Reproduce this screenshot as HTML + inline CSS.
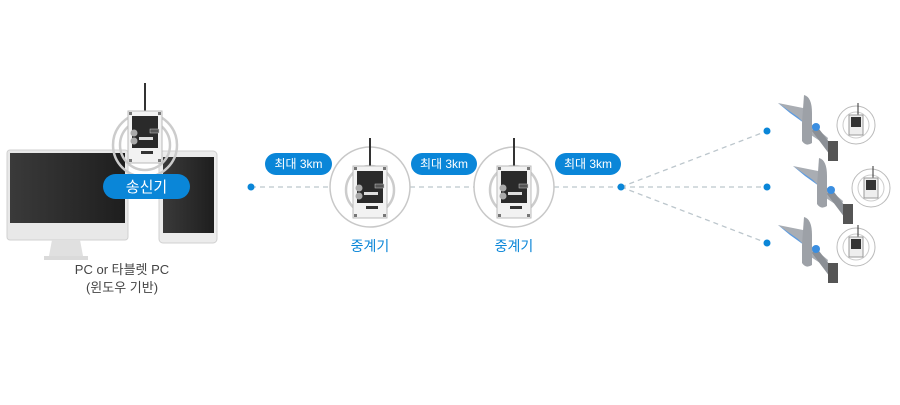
<!DOCTYPE html>
<html><head><meta charset="utf-8"><style>
html,body{margin:0;padding:0;background:#fff;}
svg text{font-family:"Liberation Sans","Noto Sans CJK KR",sans-serif;}
</style></head><body>
<svg width="900" height="400" viewBox="0 0 900 400" xmlns="http://www.w3.org/2000/svg">
<defs>
<linearGradient id="scr" x1="0" x2="1"><stop offset="0" stop-color="#3a3a3a"/><stop offset="1" stop-color="#1e1e1e"/></linearGradient>
<g id="dev">
  <line x1="0" y1="-30" x2="0" y2="-2" stroke="#333" stroke-width="2"/>
  <rect x="-17" y="-2" width="34" height="52" fill="#f2f2f2" stroke="#bbb"/>
  <rect x="-13" y="3" width="26" height="32" fill="#2a2a2a"/>
  <circle cx="-11" cy="20" r="3.5" fill="#aaa"/>
  <circle cx="-11" cy="28" r="3.5" fill="#aaa"/>
  <rect x="5" y="16" width="9" height="4" fill="#555" stroke="#ccc" stroke-width="0.5"/>
  <rect x="-6" y="24" width="14" height="3" fill="#ddd"/>
  <rect x="-4" y="38" width="12" height="3" fill="#333"/>
  <rect x="-16" y="-1" width="3" height="3" fill="#777"/><rect x="13" y="-1" width="3" height="3" fill="#777"/>
  <rect x="-16" y="46" width="3" height="3" fill="#777"/><rect x="13" y="46" width="3" height="3" fill="#777"/>
</g>
<g id="plane">
  <path d="M0 0 L30 6 L32 20 L50 35 L48 42 L30 30 L26 20 Z" fill="#a9adb3"/>
  <path d="M0 0 L12 10 L26 20 L20 14 Z" fill="#5d9be0"/>
  <path d="M26 -8 Q34 -6 34 10 L34 40 Q28 44 24 38 L24 20 Z" fill="#9da1a7"/>
  <path d="M38 22 L58 48 L52 52 L34 28 Z" fill="#8b8f95"/>
  <rect x="50" y="38" width="10" height="20" fill="#555"/>
  <circle cx="38" cy="24" r="4" fill="#3b8ee0"/>
  <circle cx="78" cy="22" r="19" fill="#fff" stroke="#bbb"/>
  <circle cx="78" cy="22" r="13" fill="none" stroke="#ccc"/>
  <line x1="80" y1="0" x2="80" y2="12" stroke="#333"/>
  <rect x="71" y="12" width="14" height="20" fill="#eee" stroke="#999"/>
  <rect x="73" y="14" width="10" height="10" fill="#333"/>
</g>
</defs>

<!-- monitor -->
<rect x="7" y="150" width="121" height="90" rx="3" fill="#e8e8e8" stroke="#d0d0d0"/>
<rect x="10" y="153" width="115" height="70" fill="url(#scr)"/>
<path d="M52 240 L80 240 L83 256 L49 256 Z" fill="#e0e0e0"/>
<rect x="44" y="256" width="44" height="4" fill="#dadada"/>
<!-- tablet -->
<rect x="159" y="151" width="58" height="92" rx="4" fill="#ececec" stroke="#d0d0d0"/>
<rect x="163" y="157" width="51" height="76" fill="url(#scr)"/>
<!-- transmitter -->
<circle cx="145" cy="145" r="32" fill="none" stroke="#ccc" stroke-width="2.5"/>
<circle cx="145" cy="145" r="25" fill="none" stroke="#ccc" stroke-width="2.5"/>
<use href="#dev" x="145" y="113"/>
<rect x="103" y="174" width="87" height="25" rx="12.5" fill="#0a86d8"/>
<text x="146.5" y="192" font-size="15" fill="#fff" text-anchor="middle">송신기</text>
<text x="122" y="274" font-size="13" fill="#444" text-anchor="middle">PC or 타블렛 PC</text>
<text x="122" y="292" font-size="13" fill="#444" text-anchor="middle">(윈도우 기반)</text>

<!-- lines -->
<g stroke="#bcc6cc" stroke-width="1.3" stroke-dasharray="5,4" fill="none">
<line x1="251" y1="187" x2="330" y2="187"/>
<line x1="410" y1="187" x2="474" y2="187"/>
<line x1="554" y1="187" x2="621" y2="187"/>
<line x1="621" y1="187" x2="767" y2="131"/>
<line x1="621" y1="187" x2="767" y2="187"/>
<line x1="621" y1="187" x2="767" y2="243"/>
</g>
<g fill="#0a86d8">
<circle cx="251" cy="187" r="3.5"/><circle cx="621" cy="187" r="3.5"/>
<circle cx="767" cy="131" r="3.5"/><circle cx="767" cy="187" r="3.5"/><circle cx="767" cy="243" r="3.5"/>
</g>

<!-- relays -->
<g>
<circle cx="370" cy="187" r="40" fill="#fff" stroke="#c8c8c8" stroke-width="1.5"/>
<circle cx="370" cy="190" r="24" fill="none" stroke="#ccc" stroke-width="2.5"/>
<circle cx="370" cy="190" r="16" fill="none" stroke="#ccc" stroke-width="2.5"/>
<use href="#dev" x="370" y="168"/>
<text x="370" y="251" font-size="14" fill="#0a86d8" text-anchor="middle">중계기</text>
</g>
<g>
<circle cx="514" cy="187" r="40" fill="#fff" stroke="#c8c8c8" stroke-width="1.5"/>
<circle cx="514" cy="190" r="24" fill="none" stroke="#ccc" stroke-width="2.5"/>
<circle cx="514" cy="190" r="16" fill="none" stroke="#ccc" stroke-width="2.5"/>
<use href="#dev" x="514" y="168"/>
<text x="514" y="251" font-size="14" fill="#0a86d8" text-anchor="middle">중계기</text>
</g>

<!-- pills -->
<g font-size="12" fill="#fff" text-anchor="middle">
<rect x="265" y="153" width="67" height="22" rx="11" fill="#0a86d8"/><text x="298.5" y="168">최대 3km</text>
<rect x="411" y="153" width="66" height="22" rx="11" fill="#0a86d8"/><text x="444" y="168">최대 3km</text>
<rect x="555" y="153" width="66" height="22" rx="11" fill="#0a86d8"/><text x="588" y="168">최대 3km</text>
</g>

<use href="#plane" x="778" y="103"/>
<use href="#plane" x="793" y="166"/>
<use href="#plane" x="778" y="225"/>
</svg>
</body></html>
